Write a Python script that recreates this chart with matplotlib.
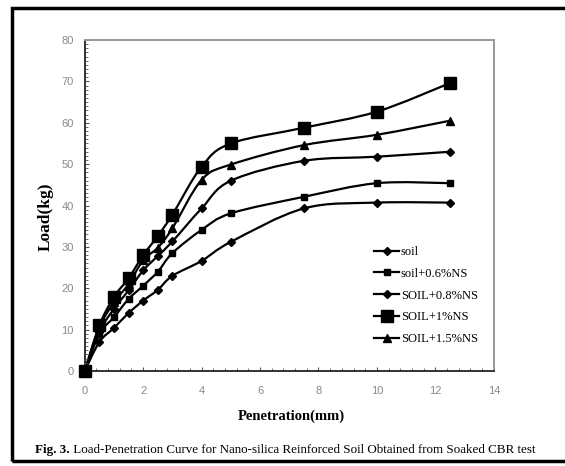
import matplotlib
matplotlib.use('Agg')
import matplotlib.pyplot as plt
from matplotlib.path import Path
from matplotlib.patches import PathPatch, Rectangle
from matplotlib.lines import Line2D
from matplotlib.ticker import MultipleLocator

# values
penetration = [0, 0.5, 1, 1.5, 2, 2.5, 3, 4, 5, 7.5, 10, 12.5]
soil = [0, 7, 10.4, 14, 17, 19.6, 23, 26.6, 31.2, 39.3, 40.7, 40.7]
soil_06 = [0, 9, 13, 17.4, 20.6, 24, 28.5, 34.1, 38.1, 42.1, 45.4, 45.4]
soil_08 = [0, 9.5, 15, 19.5, 24.3, 27.8, 31.3, 39.3, 46.0, 50.8, 51.8, 53.0]
soil_1 = [0, 11, 17.9, 22.4, 28, 32.6, 37.8, 49.4, 55.0, 58.8, 62.7, 69.6]
soil_15 = [0, 10.5, 16.6, 21, 26.8, 29.8, 34.5, 46.2, 49.9, 54.6, 57.1, 60.5]

labels = ['soil', 'soil+0.6%NS', 'SOIL+0.8%NS', 'SOIL+1%NS', 'SOIL+1.5%NS']
series = [soil, soil_06, soil_08, soil_1, soil_15]
markers = [('D', 4.2), ('s', 5), ('D', 4.2), ('s', 9), ('^', 6)]

x_ticks = [0, 2, 4, 6, 8, 10, 12, 14]
y_ticks = [0, 10, 20, 30, 40, 50, 60, 70, 80]


def smooth_path(xs, ys):
    # excel-like smoothed line: catmull-rom segments as cubic beziers
    pts = list(zip(xs, ys))
    verts = [pts[0]]
    codes = [Path.MOVETO]
    n = len(pts)
    for i in range(n - 1):
        p0 = pts[max(i - 1, 0)]
        p1 = pts[i]
        p2 = pts[i + 1]
        p3 = pts[min(i + 2, n - 1)]
        c1 = (p1[0] + (p2[0] - p0[0]) / 6, p1[1] + (p2[1] - p0[1]) / 6)
        c2 = (p2[0] - (p3[0] - p1[0]) / 6, p2[1] - (p3[1] - p1[1]) / 6)
        verts += [c1, c2, p2]
        codes += [Path.CURVE4] * 3
    return Path(verts, codes)


fig = plt.figure(figsize=(5.65, 4.66), dpi=100)
ax = fig.add_axes([0.150, 0.204, 0.724, 0.710])

for ys, (m, ms), lab in zip(series, markers, labels):
    ax.add_patch(PathPatch(smooth_path(penetration, ys), facecolor='none',
                           edgecolor='black', lw=1.6, transform=ax.transData))
    ax.plot(penetration, ys, linestyle='none', marker=m, markersize=ms,
            color='black', clip_on=False, zorder=3)

ax.set_xlim(0, 14)
ax.set_ylim(0, 80)
ax.set_xticks(x_ticks)
ax.set_yticks(y_ticks)
ax.xaxis.set_minor_locator(MultipleLocator(0.4))
ax.yaxis.set_minor_locator(MultipleLocator(1))
ax.tick_params(which='both', direction='in', colors='#555555',
               labelcolor='#8a8a8a', labelsize=8)
ax.tick_params(which='major', length=3)
ax.tick_params(which='minor', length=2)
ax.tick_params(axis='x', pad=11)
ax.tick_params(axis='y', pad=8)
for lab in ax.get_xticklabels() + ax.get_yticklabels():
    lab.set_family('Liberation Sans')

ax.spines['left'].set_color('#333333')
ax.spines['bottom'].set_color('#333333')
ax.spines['top'].set_color('#999999')
ax.spines['right'].set_color('#999999')
for s in ax.spines.values():
    s.set_linewidth(1.4)

ax.set_ylabel('Load(kg)', family='Liberation Serif', fontweight='bold',
              fontsize=12.5)
ax.yaxis.set_label_coords(-0.075, 0.465)
ax.set_xlabel('Penetration(mm)', family='Liberation Serif', fontweight='bold',
              fontsize=10.5)
ax.xaxis.set_label_coords(0.506, -0.118)

handles = [Line2D([], [], color='black', lw=1.6, marker=m, markersize=ms)
           for m, ms in markers]
fig.legend(handles, labels, loc='upper left', bbox_to_anchor=(0.662, 0.472),
           frameon=False, prop={'family': 'Liberation Serif', 'size': 9},
           handlelength=2.0, handletextpad=0.15, labelspacing=0.78,
           borderpad=0, borderaxespad=0)

cap = fig.text(0.062, 0.028, 'Fig. 3.', family='Liberation Serif',
               fontweight='bold', fontsize=9.4)
ax.annotate(' Load-Penetration Curve for Nano-silica Reinforced Soil Obtained from Soaked CBR test',
            xy=(1, 0), xycoords=cap, va='bottom', ha='left',
            family='Liberation Serif', fontsize=9.4)

# outer frame, right side runs off the image like in the original
fig.patches.append(Rectangle((0.022, 0.010), 0.985, 0.972, transform=fig.transFigure,
                             fill=False, edgecolor='black', lw=2.5))

fig.savefig('out.png', dpi=100)
